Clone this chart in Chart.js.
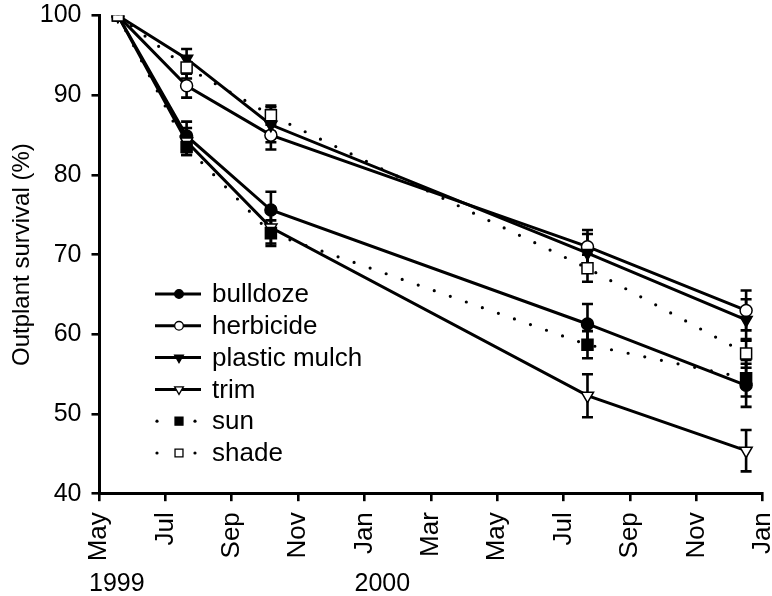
<!DOCTYPE html>
<html>
<head>
<meta charset="utf-8">
<title>Outplant survival</title>
<script src="https://cdn.jsdelivr.net/npm/chart.js@4"></script>
<style>
  html, body { margin: 0; padding: 0; background: #fff; }
  #wrap { width: 772px; height: 596px; position: relative; }
</style>
</head>
<body>
<div id="wrap"><canvas id="survival-chart"></canvas></div>
<script>
// --- Data ---
// sampling dates, in months after 1 May 1999
const sampleMonths = [0.57, 2.64, 5.18, 14.72, 19.5];

// x tick labels, one every 2 months from May 1999 to Jan 2001
const monthTicks = ['May', 'Jul', 'Sep', 'Nov', 'Jan', 'Mar', 'May', 'Jul', 'Sep', 'Nov', 'Jan'];
const yearLabels = [{ month: 0, text: '1999' }, { month: 8, text: '2000' }];

// survival (%) and standard errors
const bulldoze = [100, 84.9, 75.6, 61.3, 53.6];
const bulldozeErr = [0, 1.8, 2.3, 2.5, 2.7];
const herbicide = [100, 91.2, 85.0, 71.0, 63.0];
const herbicideErr = [0, 1.5, 1.8, 2.1, 2.5];
const plasticMulch = [100, 94.6, 86.3, 70.2, 61.8];
const plasticMulchErr = [0, 1.2, 2.2, 2.4, 2.6];
const trim = [100, 84.2, 73.4, 52.3, 45.4];
const trimErr = [0, 1.7, 2.0, 2.7, 2.6];
const sun = [100, 83.5, 72.7, 58.7, 54.5];
const sunErr = [0, 1.0, 1.6, 1.7, 2.3];
const shade = [100, 93.5, 87.5, 68.3, 57.6];
const shadeErr = [0, 1.4, 1.2, 1.7, 1.8];

const FONT = "'Liberation Sans', Arial, Helvetica, sans-serif";

function pts(values) {
  return values.map((v, i) => ({ x: sampleMonths[i], y: v }));
}

function series(label, values, errs, style, order) {
  const dotted = style.dotted;
  return {
    label: label,
    data: pts(values),
    errors: errs,
    order: order,
    borderColor: '#000',
    borderWidth: dotted ? 3.2 : 3,
    borderDash: dotted ? [0, 17] : [],
    borderCapStyle: dotted ? 'round' : 'butt',
    dotted: dotted,
    pointStyle: style.shape,
    pointRotation: style.rotation || 0,
    pointRadius: style.radius,
    pointBorderWidth: 1.5,
    pointBorderColor: '#000',
    pointBackgroundColor: style.filled ? '#000' : '#fff',
    tension: 0,
    fill: false
  };
}

const datasets = [
  series('bulldoze', bulldoze, bulldozeErr, { shape: 'circle', radius: 6, filled: true }, 5),
  series('herbicide', herbicide, herbicideErr, { shape: 'circle', radius: 6, filled: false }, 4),
  series('plastic mulch', plasticMulch, plasticMulchErr, { shape: 'triangle', rotation: 180, radius: 7, filled: true }, 3),
  series('trim', trim, trimErr, { shape: 'triangle', rotation: 180, radius: 7, filled: false }, 2),
  series('sun', sun, sunErr, { shape: 'rect', radius: 7.8, filled: true, dotted: true }, 1),
  series('shade', shade, shadeErr, { shape: 'rect', radius: 7.8, filled: false, dotted: true }, 0)
];

// --- Plugins ---
const errorBars = {
  id: 'errorBars',
  beforeDatasetsDraw(chart) {
    const ctx = chart.ctx;
    const yScale = chart.scales.y;
    ctx.save();
    ctx.strokeStyle = '#000';
    ctx.lineWidth = 2.6;
    chart.data.datasets.forEach((ds, di) => {
      const meta = chart.getDatasetMeta(di);
      meta.data.forEach((pt, i) => {
        const e = ds.errors[i];
        if (!e) return;
        const v = ds.data[i].y;
        const yTop = yScale.getPixelForValue(v + e);
        const yBot = yScale.getPixelForValue(v - e);
        const cap = 5.5;
        ctx.beginPath();
        ctx.moveTo(pt.x, yTop);
        ctx.lineTo(pt.x, yBot);
        ctx.moveTo(pt.x - cap, yTop);
        ctx.lineTo(pt.x + cap, yTop);
        ctx.moveTo(pt.x - cap, yBot);
        ctx.lineTo(pt.x + cap, yBot);
        ctx.stroke();
      });
    });
    ctx.restore();
  }
};

const sideLegend = {
  id: 'sideLegend',
  afterDraw(chart) {
    const ctx = chart.ctx;
    const left = chart.chartArea.left;
    const x0 = left + 56, x1 = left + 102, xm = left + 80;
    const yStart = 294, step = 31.8;
    ctx.save();
    chart.data.datasets.forEach((ds, i) => {
      const y = yStart + i * step;
      ctx.strokeStyle = '#000';
      ctx.fillStyle = '#000';
      if (ds.dotted) {
        [x0 + 2, x1 - 6].forEach(dx => {
          ctx.beginPath();
          ctx.arc(dx, y, 1.6, 0, Math.PI * 2);
          ctx.fill();
        });
      } else {
        ctx.lineWidth = 3;
        ctx.beginPath();
        ctx.moveTo(x0, y);
        ctx.lineTo(x1, y);
        ctx.stroke();
      }
      ctx.lineWidth = 1.3;
      ctx.fillStyle = ds.pointBackgroundColor;
      Chart.helpers.drawPoint(ctx, {
        pointStyle: ds.pointStyle,
        rotation: ds.pointRotation,
        radius: ds.pointRadius * 0.72,
        borderWidth: 1.3
      }, xm, y);
      ctx.fillStyle = '#000';
      ctx.font = '26px ' + FONT;
      ctx.textAlign = 'left';
      ctx.textBaseline = 'middle';
      ctx.fillText(ds.label, left + 113, y + 1);
    });
    ctx.restore();
  }
};

const yearRow = {
  id: 'yearRow',
  afterDraw(chart) {
    const ctx = chart.ctx;
    const xScale = chart.scales.x;
    ctx.save();
    ctx.fillStyle = '#000';
    ctx.font = '25px ' + FONT;
    ctx.textAlign = 'left';
    ctx.textBaseline = 'alphabetic';
    yearLabels.forEach(y => {
      ctx.fillText(y.text, xScale.getPixelForValue(y.month) - 10, chart.chartArea.bottom + 97);
    });
    ctx.restore();
  }
};

// --- Chart ---
const ctx = document.getElementById('survival-chart').getContext('2d');
new Chart(ctx, {
  type: 'line',
  data: { datasets: datasets },
  plugins: [errorBars, sideLegend, yearRow],
  options: {
    responsive: true,
    maintainAspectRatio: false,
    animation: false,
    layout: { padding: { top: 15.6, right: 4.5, left: 0, bottom: 0 } },
    plugins: {
      legend: { display: false },
      tooltip: { enabled: false }
    },
    scales: {
      x: {
        type: 'linear',
        min: 0,
        max: 20,
        grid: { drawOnChartArea: false, drawTicks: true, tickLength: 7.5, color: '#000', lineWidth: 2.6 },
        border: { display: true, color: '#000', width: 3 },
        ticks: {
          stepSize: 2,
          autoSkip: false,
          minRotation: 90,
          maxRotation: 90,
          padding: 11,
          color: '#000',
          font: { family: FONT, size: 26 },
          callback: (value) => monthTicks[Math.round(value / 2)]
        },
        afterFit(scale) {
          scale.height = 102.3;
          scale.paddingLeft = 0;
          scale.paddingRight = 0;
        }
      },
      y: {
        min: 40,
        max: 100,
        grid: { drawOnChartArea: false, drawTicks: true, tickLength: 7.5, color: '#000', lineWidth: 2.6 },
        border: { display: true, color: '#000', width: 3 },
        ticks: {
          stepSize: 10,
          padding: 10,
          color: '#000',
          font: { family: FONT, size: 25 }
        },
        title: {
          display: true,
          text: 'Outplant survival (%)',
          color: '#000',
          font: { family: FONT, size: 24 },
          padding: { top: 8, bottom: 0 }
        },
        afterFit(scale) {
          scale.width = 99;
          scale.paddingTop = 0;
          scale.paddingBottom = 0;
        }
      }
    }
  }
});
</script>
</body>
</html>
